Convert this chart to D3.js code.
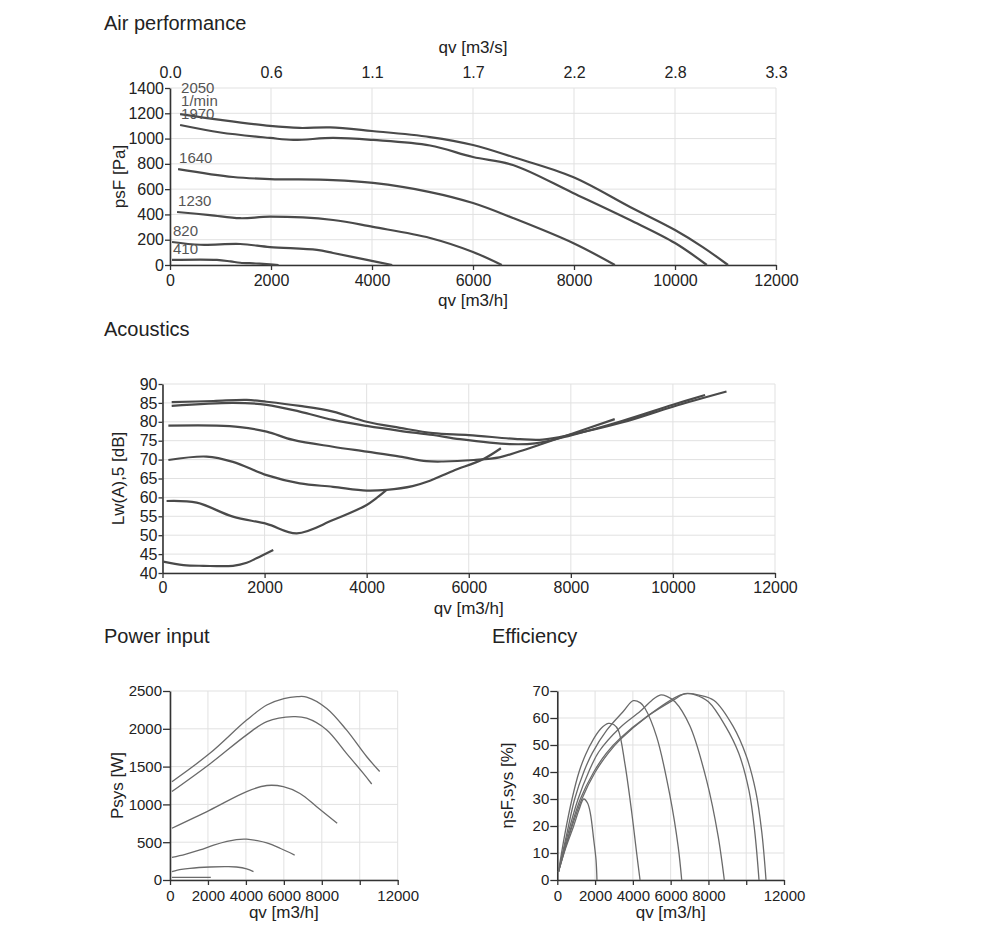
<!DOCTYPE html>
<html>
<head>
<meta charset="utf-8">
<script src="https://cdn.jsdelivr.net/npm/d3@7"></script>
<style>
  body { margin: 0; background: #fff; }
  svg text { font-family: "Liberation Sans", Arial, sans-serif; fill: #222; }
  .tick text, .lbl { font-family: "Liberation Sans Narrow", "Arial Narrow", "Liberation Sans", sans-serif; }
</style>
</head>
<body>
<svg id="chart" width="1000" height="931"></svg>
<script>
// shared x ticks (m3/h)
const qvTicks = [0, 2000, 4000, 6000, 8000, 10000, 12000];
const rpmLabels = ["2050", "1970", "1640", "1230", "820", "410"];

// Air performance: [qv m3/h, psF Pa]
const air2050 = [[200,1194],[1000,1148],[1980,1100],[2570,1084],[3170,1088],[4000,1060],[5150,1012],[6000,949],[6790,854],[7980,696],[9110,459],[10000,277],[10550,142],[11050,0]];
const air1970 = [[200,1107],[1000,1048],[1980,1005],[2440,989],[3230,1005],[4020,989],[5150,945],[6000,854],[6790,791],[7980,570],[9110,356],[10000,174],[10630,0]];
const air1640 = [[160,759],[1250,696],[1980,680],[3230,672],[4020,649],[5150,577],[6000,490],[6790,372],[7980,174],[8810,0]];
const air1230 = [[140,419],[790,395],[1390,370],[1980,382],[3230,356],[4020,301],[5150,214],[6000,103],[6570,0]];
const air820 = [[40,182],[600,160],[1390,166],[1980,142],[2910,119],[3230,95],[3900,40],[4400,0]];
const air410 = [[40,40],[930,40],[1200,28],[1390,18],[1700,12],[1980,5],[2150,0]];
const airTicks = [0, 200, 400, 600, 800, 1000, 1200, 1400];

// Acoustics: [qv m3/h, Lw(A),5 dB]
const snd2050 = [[180,85.2],[1000,85.5],[1650,85.8],[2040,85.3],[2690,84.2],[3340,82.7],[4000,80.0],[4650,78.4],[5300,77.0],[6000,76.5],[7000,75.4],[7450,75.3],[8000,76.6],[9000,79.8],[10000,84.0],[11050,88.0]];
const snd1970 = [[180,84.2],[1380,85.0],[2040,84.5],[2690,82.7],[3340,80.5],[4000,78.9],[4650,77.6],[5300,76.5],[5830,75.4],[6800,74.1],[7300,74.3],[8000,76.4],[9000,80.2],[10000,84.5],[10630,87.1]];
const snd1640 = [[115,79.0],[1060,79.0],[1520,78.6],[2040,77.4],[2560,75.2],[3340,73.4],[4000,72.1],[4650,70.8],[5170,69.6],[5500,69.5],[6100,69.9],[6600,70.6],[7000,72.2],[7400,74.0],[7950,76.5],[8860,80.7]];
const snd1230 = [[115,69.9],[865,70.8],[1380,69.4],[2040,65.9],[2690,63.7],[3340,62.8],[4000,61.8],[4390,62.0],[4900,63.0],[5240,64.4],[5690,67.0],[6280,70.1],[6630,73.0]];
const snd820 = [[80,59.05],[670,58.6],[1380,54.9],[2040,53.0],[2630,50.5],[3340,54.0],[4000,58.0],[4190,59.8],[4390,62.0]];
const snd410 = [[15,43.0],[410,42.1],[800,41.9],[1380,41.9],[1650,42.7],[1840,43.9],[2170,46.1]];
const sndTicks = [40, 45, 50, 55, 60, 65, 70, 75, 80, 85, 90];

// Power input: [qv m3/h, Psys W]
const pow2050 = [[100,1300],[2100,1675],[4040,2115],[5100,2315],[6000,2400],[6700,2425],[7200,2420],[8260,2270],[9300,1985],[10370,1630],[11050,1435]];
const pow1970 = [[100,1170],[2100,1535],[4040,1920],[5100,2095],[6500,2160],[7200,2140],[8260,1985],[9300,1675],[10190,1410],[10630,1270]];
const pow1640 = [[100,685],[2100,925],[4040,1170],[5100,1250],[5970,1235],[6850,1145],[7730,970],[8810,750]];
const pow1230 = [[100,300],[800,340],[1580,397],[2300,460],[3000,510],[3500,535],[4040,540],[4600,520],[5100,490],[5800,420],[6570,330]];
const pow820 = [[100,110],[600,140],[1050,155],[2100,172],[3000,176],[3500,172],[4040,148],[4400,110]];
const pow410 = [[100,35],[2150,35]];
const powTicks = [0, 500, 1000, 1500, 2000, 2500];

// Efficiency: [qv m3/h, etaSF,sys %]
const eff2050 = [[60,3],[650,17],[1300,30],[2010,40],[2700,47],[3330,52],[4740,60.5],[6500,68.5],[6900,69],[7500,68.5],[8300,66.5],[9300,57],[10000,46],[10500,33],[10820,18],[11048,0]];
const eff1970 = [[60,3],[620,17],[1220,30],[1930,40],[2600,47],[3330,52.5],[4740,60.5],[6160,66.7],[6760,69],[7300,68.6],[8000,66],[8900,57],[9600,47],[10150,33],[10450,18],[10677,0]];
const eff1640 = [[60,3],[560,17],[1100,30],[1660,40],[2200,47.5],[3330,56.5],[4390,62.5],[5000,66.5],[5440,68.5],[5800,68],[6230,66],[7020,57],[7900,37],[8520,16],[8840,0]];
const eff1230 = [[60,3],[500,17],[920,30],[1400,40],[1850,47],[2620,55.5],[3500,62.5],[4020,66.4],[4400,65.6],[4640,63.6],[5260,53],[5970,31],[6400,12.3],[6585,0]];
const eff820 = [[60,3],[400,17],[780,30],[1150,40],[1500,46.5],[1900,52],[2300,56],[2700,58],[3000,57.5],[3230,55.5],[3580,43],[3940,25],[4200,10],[4380,0]];
const eff410 = [[60,3],[450,12],[866,20],[1150,26],[1400,30],[1600,28.5],[1750,24.7],[1930,14.8],[2050,7.4],[2100,0]];
const effTicks = [0, 10, 20, 30, 40, 50, 60, 70];

const svg = d3.select("#chart");

function panel(o) {
  const x = d3.scaleLinear().domain([0, 12000]).range([o.left, o.right]);
  const y = d3.scaleLinear().domain([o.yTicks[0], o.yTicks[o.yTicks.length - 1]]).range([o.bottom, o.top]);
  const g = svg.append("g");

  // grid
  g.append("g").selectAll("line").data(qvTicks).join("line")
    .attr("x1", d => x(d)).attr("x2", d => x(d))
    .attr("y1", o.top).attr("y2", o.bottom)
    .attr("stroke", "#e1e1e1");
  g.append("g").selectAll("line").data(o.yTicks).join("line")
    .attr("x1", o.left).attr("x2", o.right)
    .attr("y1", d => y(d)).attr("y2", d => y(d))
    .attr("stroke", "#e1e1e1");

  // axes
  const xa = g.append("g").attr("transform", `translate(0,${o.bottom})`)
    .call(d3.axisBottom(x).tickValues(qvTicks).tickSize(5).tickSizeOuter(0).tickPadding(o.xPad)
      .tickFormat(d => (o.skip10k && d === 10000) ? "" : String(d)));
  const ya = g.append("g").attr("transform", `translate(${o.left},0)`)
    .call(d3.axisLeft(y).tickValues(o.yTicks).tickSize(o.ySize).tickSizeOuter(0).tickPadding(1)
      .tickFormat(d => String(d)));
  [xa, ya].forEach(a => {
    a.attr("font-size", o.tickFont).attr("font-family", null);
    a.select(".domain").attr("stroke", "#333").attr("stroke-width", 1.6);
    a.selectAll(".tick line").attr("stroke", "#333").attr("stroke-width", 1.3);
    a.selectAll(".tick text").attr("fill", "#333");
  });

  // curves
  const line = d3.line().x(d => x(d[0])).y(d => y(d[1])).curve(d3.curveCatmullRom.alpha(0.5));
  g.append("g").selectAll("path").data(o.series).join("path")
    .attr("d", line)
    .attr("fill", "none")
    .attr("stroke", o.color)
    .attr("stroke-width", o.width)
    .attr("stroke-linejoin", "round");

  // titles
  svg.append("text").attr("x", o.titleX).attr("y", o.titleY)
    .attr("font-size", 20).text(o.title);
  svg.append("text").attr("x", (o.left + o.right) / 2).attr("y", o.xLabelY)
    .attr("text-anchor", "middle").attr("font-size", o.labelFont).text("qv [m3/h]");
  svg.append("text")
    .attr("transform", `translate(${o.yLabelX},${(o.top + o.bottom) / 2}) rotate(-90)`)
    .attr("text-anchor", "middle").attr("font-size", o.labelFont).text(o.yLabel);

  return { x, y, g };
}

// Air performance
const air = panel({
  left: 170, right: 776, top: 88, bottom: 265,
  yTicks: airTicks, ySize: 5, xPad: 5, tickFont: 16, labelFont: 17,
  series: [air2050, air1970, air1640, air1230, air820, air410],
  color: "#4a4a4a", width: 2.2,
  title: "Air performance", titleX: 104, titleY: 30,
  xLabelY: 306, yLabel: "psF [Pa]", yLabelX: 125
});
// top axis in m3/s
const ta = air.g.append("g").attr("transform", "translate(0,88)")
  .call(d3.axisTop(air.x).tickValues(qvTicks).tickSize(0).tickPadding(10)
    .tickFormat(d => (d / 3600).toFixed(1)));
ta.attr("font-size", 16).attr("font-family", null);
ta.select(".domain").remove();
ta.selectAll(".tick text").attr("fill", "#333");
svg.append("text").attr("x", 473).attr("y", 53).attr("text-anchor", "middle")
  .attr("font-size", 17).text("qv [m3/s]");

// rpm labels at curve starts
[air2050, air1970, air1640, air1230, air820, air410].forEach((s, i) => {
  const px = air.x(s[0][0]), py = air.y(s[0][1]);
  const t = svg.append("text").attr("class", "lbl").attr("x", px + 1)
    .attr("font-size", 15).style("fill", "#555");
  if (i === 0) {
    t.attr("y", py - 21).text(rpmLabels[i]);
    svg.append("text").attr("class", "lbl").attr("x", px + 1).attr("y", py - 8)
      .attr("font-size", 15).style("fill", "#555").text("1/min");
  } else {
    t.attr("y", py - 6).text(rpmLabels[i]);
  }
});

// Acoustics
panel({
  left: 162.5, right: 775, top: 384, bottom: 573,
  yTicks: sndTicks, ySize: 4, xPad: 4, tickFont: 16, labelFont: 17,
  series: [snd2050, snd1970, snd1640, snd1230, snd820, snd410],
  color: "#4a4a4a", width: 2.2,
  title: "Acoustics", titleX: 104, titleY: 336,
  xLabelY: 614, yLabel: "Lw(A),5 [dB]", yLabelX: 124
});

// Power input
panel({
  left: 170, right: 397.7, top: 691, bottom: 880,
  yTicks: powTicks, ySize: 7, xPad: 5, tickFont: 15, labelFont: 17, skip10k: true,
  series: [pow2050, pow1970, pow1640, pow1230, pow820, pow410],
  color: "#6a6a6a", width: 1.3,
  title: "Power input", titleX: 104, titleY: 643,
  xLabelY: 918, yLabel: "Psys [W]", yLabelX: 123
});

// Efficiency
panel({
  left: 557.3, right: 784, top: 691, bottom: 880,
  yTicks: effTicks, ySize: 7, xPad: 5, tickFont: 15, labelFont: 17, skip10k: true,
  series: [eff2050, eff1970, eff1640, eff1230, eff820, eff410],
  color: "#6a6a6a", width: 1.3,
  title: "Efficiency", titleX: 492, titleY: 643,
  xLabelY: 918, yLabel: "ηsF,sys [%]", yLabelX: 513
});
</script>
</body>
</html>
